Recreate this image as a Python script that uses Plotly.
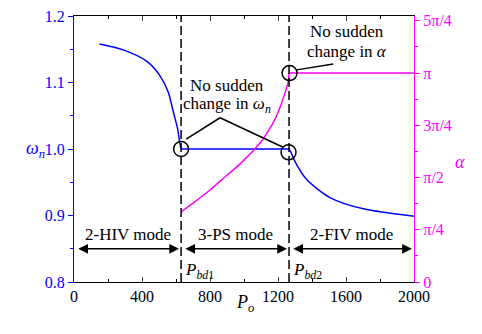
import numpy as np
import plotly.graph_objects as go

PI = np.pi
BLUE = "#0000ff"
MAG = "#ff00ff"
FONT = "Liberation Serif, Times New Roman, serif"

# omega_n segments
om1_x = [150, 290, 427, 506, 555, 584, 608, 624, 630]
om1_y = [1.158, 1.149, 1.132, 1.110, 1.085, 1.056, 1.032, 1.007, 1.0]
om2_x = [630, 1265]
om2_y = [1.0, 1.0]
om3_x = [1265, 1278, 1300, 1369, 1506, 1702, 2000]
om3_y = [1.0, 0.994, 0.981, 0.954, 0.927, 0.910, 0.899]

# alpha (rad)
al1_x = [630, 702, 800, 898, 976, 1094, 1163, 1192, 1241, 1261, 1265]
al1_y = [1.055, 1.190, 1.384, 1.602, 1.773, 2.089, 2.355, 2.50, 2.84, 3.03, PI]
al2_x = [1265, 2000]
al2_y = [PI, PI]

# boundaries
P_bd = [630, 1265]

# circles
circ_om_x = [630, 1262]
circ_om_y = [1.0, 0.995]
circ_al_x = [1268]
circ_al_y = [PI]

# modes
mode_labels = ["2-HIV mode", "3-PS mode", "2-FIV mode"]
mode_edges = [0, P_bd[0], P_bd[1], 2000]

xtick_vals = [0, 400, 800, 1200, 1600, 2000]
ytick_l_vals = [0.8, 0.9, 1.0, 1.1, 1.2]
ytick_l_text = ["0.8", "0.9", "1.0", "1.1", "1.2"]
ytick_r_vals = [k * PI / 4 for k in range(6)]
ytick_r_text = ["0", "π/4", "π/2", "3π/4", "π", "5π/4"]

fig = go.Figure()
for xs, ys in [(om1_x, om1_y), (om2_x, om2_y), (om3_x, om3_y)]:
    fig.add_trace(go.Scatter(x=xs, y=ys, mode="lines", line=dict(color=BLUE, width=1.5, shape="spline", smoothing=0.8)))
for xs, ys in [(al1_x, al1_y), (al2_x, al2_y)]:
    fig.add_trace(go.Scatter(x=xs, y=ys, mode="lines", yaxis="y2", line=dict(color=MAG, width=1.5, shape="spline", smoothing=0.8)))

fig.add_trace(go.Scatter(x=circ_om_x, y=circ_om_y, mode="markers",
                         marker=dict(symbol="circle-open", size=15, color="black", line=dict(width=1.5, color="black"))))
fig.add_trace(go.Scatter(x=circ_al_x, y=circ_al_y, mode="markers", yaxis="y2",
                         marker=dict(symbol="circle-open", size=15, color="black", line=dict(width=1.5, color="black"))))

shapes = []
for p in P_bd:
    shapes.append(dict(type="line", xref="x", yref="paper", x0=p, x1=p, y0=0, y1=1,
                       line=dict(color="black", width=1.5, dash="9px,4px")))
# pointer lines for omega annotation
apex = (859, 1.047)
shapes.append(dict(type="line", xref="x", yref="y", x0=circ_om_x[0] + 30, y0=circ_om_y[0] + 0.015,
                   x1=apex[0], y1=apex[1], line=dict(color="black", width=1.5)))
shapes.append(dict(type="line", xref="x", yref="y", x0=apex[0], y0=apex[1],
                   x1=circ_om_x[1] - 35, y1=circ_om_y[1] + 0.008, line=dict(color="black", width=1.5)))
# pointer line for alpha annotation
shapes.append(dict(type="line", xref="x", yref="y2", x0=circ_al_x[0] + 42, y0=3.19,
                   x1=1525, y1=3.277, line=dict(color="black", width=1.5)))

annotations = []
tf = dict(family=FONT, size=17, color="black")
annotations += [
    dict(x=898, y=1.096, xref="x", yref="y", text="No sudden", showarrow=False, font=tf),
    dict(x=898, y=1.066, xref="x", yref="y", text="change in <i>ω<sub>n</sub></i>", showarrow=False, font=tf),
    dict(x=1604, y=1.176, xref="x", yref="y", text="No sudden", showarrow=False, font=tf),
    dict(x=1604, y=1.146, xref="x", yref="y", text="change in <i>α</i>", showarrow=False, font=tf),
]
gap = 12
for i, lab in enumerate(mode_labels):
    a, b = mode_edges[i], mode_edges[i + 1]
    annotations.append(dict(x=(a + b) / 2, y=0.872, xref="x", yref="y", text=lab, showarrow=False, font=tf))
    annotations.append(dict(x=b - gap, y=0.85, ax=a + gap + 4, ay=0.85, xref="x", yref="y", axref="x", ayref="y",
                            text="", showarrow=True, arrowhead=2, startarrowhead=2, arrowside="end+start",
                            arrowsize=1.3, startarrowsize=1.3, arrowwidth=1.5, arrowcolor="black"))
for i, p in enumerate(P_bd):
    annotations.append(dict(x=p + 14, y=0.816, xref="x", yref="y", xanchor="left",
                            text=f"<i>P</i><sub><i>bd</i>{i+1}</sub>",
                            showarrow=False, font=tf))

# axis titles (pixel positions converted to paper coords below)
title_anns = [
    dict(x=24, y=145, text="<i>ω<sub>n</sub></i>", font=dict(family=FONT, size=18, color=BLUE)),
    dict(x=245, y=318, text="<i>P<sub>o</sub></i>", font=dict(family=FONT, size=18, color="black")),
    dict(x=467, y=158, text="<i>α</i>", font=dict(family=FONT, size=18, color=MAG)),
]

L, R, T, B = 74, 68, 8, 52
W, H = 482, 334
pw, ph = W - L - R, H - T - B
for a in title_anns:
    a["x"] = (a["x"] - L) / pw
    a["y"] = 1 - (a["y"] - T) / ph
    a.update(xref="paper", yref="paper", showarrow=False)
    annotations.append(a)

fig.update_layout(
    width=W, height=H, margin=dict(l=L, r=R, t=T, b=B),
    paper_bgcolor="white", plot_bgcolor="white", showlegend=False,
    font=dict(family=FONT, size=16, color="black"),
    shapes=shapes, annotations=annotations,
    xaxis=dict(range=[0, 2000], tickvals=xtick_vals, ticks="inside", ticklen=5, tickwidth=1,
               showline=True, linecolor="black", linewidth=1.2, mirror="ticks", showgrid=False, zeroline=False,
               minor=dict(dtick=200, ticks="inside", ticklen=3, tickcolor="black"),
               tickfont=dict(family=FONT, size=16, color="black")),
    yaxis=dict(range=[0.8, 1.2], tickvals=ytick_l_vals, ticktext=ytick_l_text,
               ticks="outside", ticklen=5, tickcolor=BLUE, showline=True, linecolor=BLUE, linewidth=1.2,
               showgrid=False, zeroline=False,
               minor=dict(dtick=0.05, ticks="outside", ticklen=3, tickcolor=BLUE),
               tickfont=dict(family=FONT, size=16, color=BLUE)),
    yaxis2=dict(range=[0, 4.0], overlaying="y", side="right", tickvals=ytick_r_vals, ticktext=ytick_r_text,
                ticks="outside", ticklen=5, tickcolor=MAG, showline=True, linecolor=MAG, linewidth=1.2,
                showgrid=False, zeroline=False,
                minor=dict(tickvals=[(2 * k + 1) * PI / 8 for k in range(5)], ticks="outside", ticklen=3, tickcolor=MAG),
                tickfont=dict(family=FONT, size=16, color=MAG)),
)

fig.write_html("out.html")
